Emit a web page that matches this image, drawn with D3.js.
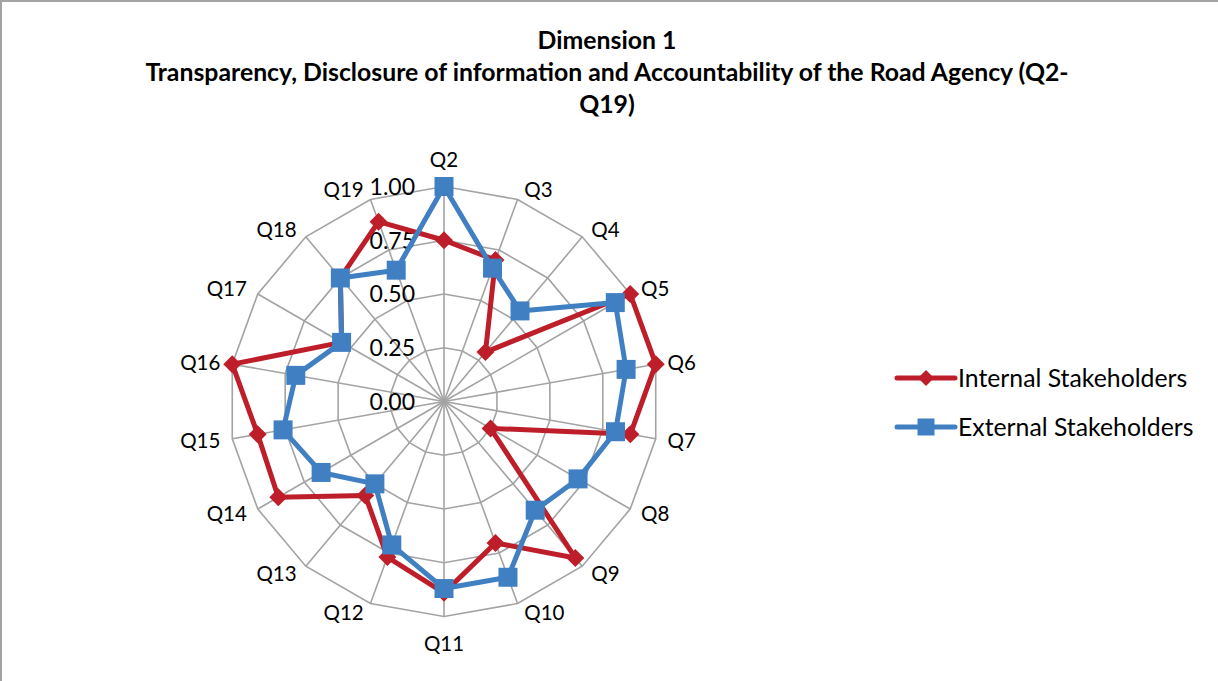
<!DOCTYPE html>
<html>
<head>
<meta charset="utf-8">
<script src="https://cdn.jsdelivr.net/npm/d3@7"></script>
<style>
  body { margin: 0; background: #fff; }
  svg { display: block; }
  text { font-family: Lato, "Open Sans", sans-serif; fill: #000; }
</style>
</head>
<body>
<div id="chart"></div>
<script>
const width = 1218;
const height = 681;

// data
const questions = ['Q2', 'Q3', 'Q4', 'Q5', 'Q6', 'Q7', 'Q8', 'Q9', 'Q10',
    'Q11', 'Q12', 'Q13', 'Q14', 'Q15', 'Q16', 'Q17', 'Q18', 'Q19'];
const internalValues = [0.75, 0.70, 0.30, 1.00, 1.00, 0.88, 0.25, 0.95, 0.70,
    0.89, 0.77, 0.57, 0.89, 0.88, 1.00, 0.55, 0.75, 0.89];
const externalValues = [1.00, 0.66, 0.55, 0.92, 0.86, 0.81, 0.72, 0.66, 0.87,
    0.87, 0.71, 0.50, 0.66, 0.76, 0.70, 0.55, 0.75, 0.65];
const tickValues = [0, 0.25, 0.5, 0.75, 1];
const seriesNames = ['Internal Stakeholders', 'External Stakeholders'];
const titleLines = ['Dimension 1',
    'Transparency, Disclosure of information and Accountability of the Road Agency (Q2-',
    'Q19)'];

const red = '#be1e2a';
const blue = '#4080c2';
const grid = '#a3a3a3';

const center = { x: 444, y: 401.5 };
const outerR = 215;

const r = d3.scaleLinear().domain([0, 1]).range([0, outerR]);
const angle = d3.scalePoint().domain(questions).range([0, 2 * Math.PI * (questions.length - 1) / questions.length]);

// x/y from angle (clockwise from top) and radius
const px = (a, rad) => center.x + rad * Math.sin(a);
const py = (a, rad) => center.y - rad * Math.cos(a);

const svg = d3.select('#chart')
    .append('svg')
    .attr('width', width)
    .attr('height', height);

// chart frame (only top and left edges are visible)
svg.append('line').attr('x1', 0).attr('x2', width).attr('y1', 1).attr('y2', 1)
    .attr('stroke', grid).attr('stroke-width', 2);
svg.append('line').attr('x1', 1).attr('x2', 1).attr('y1', 0).attr('y2', height)
    .attr('stroke', grid).attr('stroke-width', 2);

// title
svg.append('g')
    .selectAll('text')
    .data(titleLines)
    .enter()
    .append('text')
    .attr('x', 607)
    .attr('y', (d, i) => 40 + i * 32)
    .attr('dy', '0.35em')
    .attr('text-anchor', 'middle')
    .style('font-size', '24.8px')
    .style('font-weight', 'bold')
    .text(d => d);

const g = svg.append('g').attr('id', 'radar');

// rings
const ringLine = d3.lineRadial().angle(d => d.a).radius(d => d.r).curve(d3.curveLinearClosed);
g.append('g')
    .attr('transform', `translate(${center.x},${center.y})`)
    .selectAll('path')
    .data(tickValues.slice(1))
    .enter()
    .append('path')
    .attr('d', v => ringLine(questions.map(q => ({ a: angle(q), r: r(v) }))))
    .attr('fill', 'none')
    .attr('stroke', grid)
    .attr('stroke-width', 1.6);

// spokes
g.append('g')
    .selectAll('line')
    .data(questions)
    .enter()
    .append('line')
    .attr('x1', center.x)
    .attr('y1', center.y)
    .attr('x2', q => px(angle(q), outerR))
    .attr('y2', q => py(angle(q), outerR))
    .attr('stroke', grid)
    .attr('stroke-width', 1.6);

// value labels
g.append('g')
    .selectAll('text')
    .data(tickValues)
    .enter()
    .append('text')
    .attr('x', center.x - 29)
    .attr('y', v => center.y - r(v))
    .attr('dy', '0.36em')
    .attr('text-anchor', 'end')
    .style('font-size', '23px')
    .text(v => d3.format('.2f')(v));

// category labels
g.append('g')
    .selectAll('text')
    .data(questions)
    .enter()
    .append('text')
    .each(function (q) {
        const a = angle(q);
        const s = Math.sin(a), c = Math.cos(a);
        const t = d3.select(this);
        if (Math.abs(s) < 0.01) {
            t.attr('x', px(a, outerR))
                .attr('y', py(a, outerR) - c * 27)
                .attr('text-anchor', 'middle');
        } else {
            t.attr('x', px(a, outerR) + (s > 0 ? 1 : -1) * (4 + 8 * Math.abs(s)))
                .attr('y', py(a, outerR) - c * 10)
                .attr('text-anchor', s > 0 ? 'start' : 'end');
        }
    })
    .attr('dy', '0.36em')
    .style('font-size', '20.5px')
    .text(q => q);

// series
const series = [
    { name: seriesNames[0], values: internalValues, color: red, marker: 'diamond' },
    { name: seriesNames[1], values: externalValues, color: blue, marker: 'square' },
];

const markerPath = (type) => type === 'diamond' ? 'M0,-9L9,0L0,9L-9,0Z' : 'M-9.5,-9.5H9.5V9.5H-9.5Z';

series.forEach(s => {
    const pts = questions.map((q, i) => [px(angle(q), r(s.values[i])), py(angle(q), r(s.values[i]))]);

    g.append('path')
        .datum(pts)
        .attr('d', d3.line().curve(d3.curveLinearClosed))
        .attr('fill', 'none')
        .attr('stroke', s.color)
        .attr('stroke-width', 5)
        .attr('stroke-linejoin', 'round');

    g.append('g')
        .selectAll('path')
        .data(pts)
        .enter()
        .append('path')
        .attr('transform', d => `translate(${d[0]},${d[1]})`)
        .attr('d', markerPath(s.marker))
        .attr('fill', s.color);
});

// legend
const legend = svg.append('g')
    .selectAll('g')
    .data(series)
    .enter()
    .append('g')
    .attr('transform', (d, i) => `translate(897,${378 + i * 49})`);

legend.append('line')
    .attr('x1', 0).attr('x2', 58)
    .attr('stroke', d => d.color)
    .attr('stroke-width', 5)
    .attr('stroke-linecap', 'round');

legend.append('path')
    .attr('transform', 'translate(29,0)')
    .attr('d', d => d.marker === 'diamond' ? 'M0,-8L8,0L0,8L-8,0Z' : 'M-8.5,-8.5H8.5V8.5H-8.5Z')
    .attr('fill', d => d.color);

legend.append('text')
    .attr('x', 61)
    .attr('dy', '0.36em')
    .style('font-size', '24.8px')
    .text(d => d.name);
</script>
</body>
</html>
